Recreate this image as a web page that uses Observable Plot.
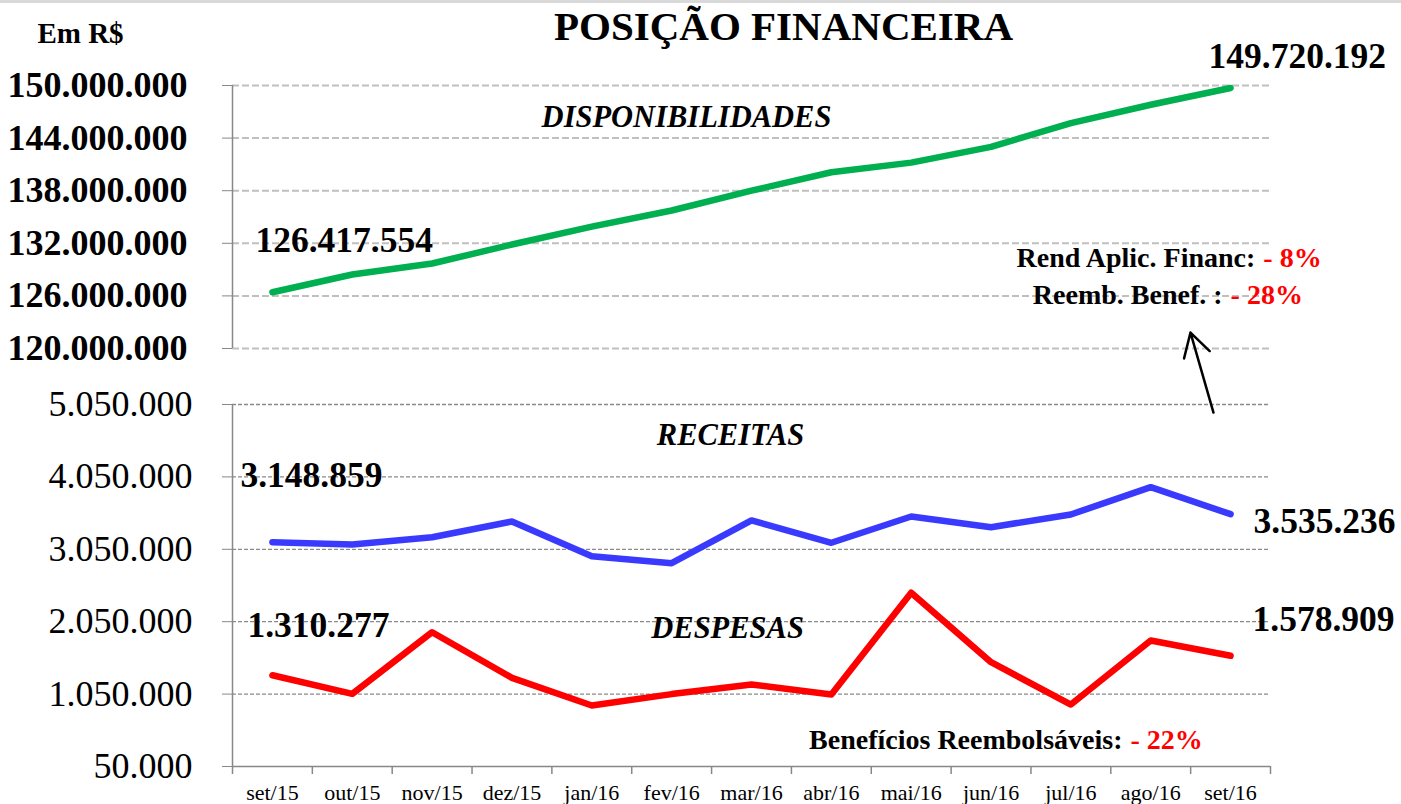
<!DOCTYPE html>
<html>
<head>
<meta charset="utf-8">
<script src="https://cdn.jsdelivr.net/npm/d3@7"></script>
<script src="https://cdn.jsdelivr.net/npm/@observablehq/plot@0.6"></script>
<style>
  html, body { margin: 0; padding: 0; background: #fff; }
  #wrap { position: relative; width: 1401px; height: 804px; overflow: hidden; background: #fff; }
  #wrap svg { position: absolute; left: 0; top: 0; }
  #topline { position: absolute; left: 0; top: 0; width: 1401px; height: 3px; background: #d9d9d9; }
  #wrap svg [aria-label*="axis"] line,
  #wrap svg [aria-label*="axis tick"] path { stroke: #888; }
  #bottomPlot [aria-label^="x-axis"] text { font-size: 22px; }
</style>
</head>
<body>
<div id="wrap"><div id="topline"></div></div>
<script>
// ---- data ----
const months = ["set/15","out/15","nov/15","dez/15","jan/16","fev/16","mar/16","abr/16","mai/16","jun/16","jul/16","ago/16","set/16"];
const disponibilidades = [126417554, 128440000, 129700000, 131860000, 133900000, 135740000, 138000000, 140100000, 141200000, 143000000, 145700000, 147800000, 149720192];
const receitas = [3148859, 3116000, 3217000, 3434000, 2955000, 2858000, 3448000, 3140000, 3503000, 3355000, 3531000, 3908000, 3535236];
const despesas = [1310277, 1054000, 1905000, 1275000, 892000, 1050000, 1183000, 1044000, 2449000, 1490000, 906000, 1790000, 1578909];
const topTicks = [120000000, 126000000, 132000000, 138000000, 144000000, 150000000];
const bottomTicks = [50000, 1050000, 2050000, 3050000, 4050000, 5050000];

// ---- helpers ----
const fmt = d3.formatLocale({decimal: ",", thousands: ".", grouping: [3], currency: ["R$ ", ""]}).format(",d");
const FONT = '"Liberation Serif", "Times New Roman", Times, serif';
const W = 1401, H = 804;
const n = months.length;
const idx = months.map((m, i) => i);
const xDomain = [-0.5, n - 0.5];
const boundaries = months.map((m, i) => i - 0.5).concat([n - 0.5]);
const last = n - 1;

const dispRows = months.map((m, i) => ({i, v: disponibilidades[i]}));
const recRows = months.map((m, i) => ({i, v: receitas[i]}));
const despRows = months.map((m, i) => ({i, v: despesas[i]}));

const GREEN = "#00b050", BLUE = "#3a3aff", RED = "#ff0000";

// ---- top panel: Disponibilidades ----
const topPlot = Plot.plot({
  width: W, height: H,
  marginLeft: 232, marginRight: 131, marginTop: 85, marginBottom: 456,
  style: {fontFamily: FONT, fontSize: "36px", fontWeight: "bold", color: "#000", background: "transparent", overflow: "visible"},
  x: {domain: xDomain, axis: null},
  y: {domain: [120000000, 150000000], ticks: topTicks, tickFormat: fmt, tickSize: 10, tickPadding: 35, label: null},
  marks: [
    Plot.ruleY(topTicks, {stroke: "#c0c0c0", strokeWidth: 2, strokeDasharray: "7,3"}),
    Plot.ruleX([xDomain[0]], {stroke: "#888", strokeWidth: 1.5}),
    Plot.line(dispRows, {x: "i", y: "v", stroke: GREEN, strokeWidth: 6.5, strokeLinejoin: "round", strokeLinecap: "round"}),
    Plot.text([dispRows[0]], {x: "i", y: "v", text: d => fmt(d.v), textAnchor: "start", dx: -17, dy: -40, lineAnchor: "bottom", fontSize: 35.5, fontWeight: "bold", fill: "#000"}),
    Plot.text([dispRows[last]], {x: "i", y: "v", text: d => fmt(d.v), textAnchor: "start", dx: -22, dy: -20, lineAnchor: "bottom", fontSize: 35.5, fontWeight: "bold", fill: "#000"}),
    Plot.text(["DISPONIBILIDADES"], {x: 5.186, y: 145210000, text: d => d, lineAnchor: "bottom", fontSize: 30.5, fontWeight: "bold", fontStyle: "italic", fill: "#000"}),
    Plot.text(["Rend Aplic. Financ:"], {x: 12.36, y: 129240000, text: d => d, textAnchor: "end", dx: -4, lineAnchor: "bottom", fontSize: 28, fontWeight: "bold", fill: "#000"}),
    Plot.text(["- 8%"], {x: 12.36, y: 129240000, text: d => d, textAnchor: "start", dx: 4, lineAnchor: "bottom", fontSize: 28, fontWeight: "bold", fill: RED}),
    Plot.text(["Reemb. Benef. :"], {x: 11.95, y: 125130000, text: d => d, textAnchor: "end", dx: -4, lineAnchor: "bottom", fontSize: 28, fontWeight: "bold", fill: "#000"}),
    Plot.text(["- 28%"], {x: 11.95, y: 125130000, text: d => d, textAnchor: "start", dx: 4, lineAnchor: "bottom", fontSize: 28, fontWeight: "bold", fill: RED}),
    Plot.text(["POSIÇÃO FINANCEIRA"], {frameAnchor: "top", text: d => d, dx: 32, dy: -46, lineAnchor: "bottom", fontSize: 41, fontWeight: "bold", fill: "#000"}),
    Plot.text(["Em R$"], {frameAnchor: "top-left", text: d => d, textAnchor: "middle", dx: -152, dy: -43, lineAnchor: "bottom", fontSize: 29, fontWeight: "bold", fill: "#000"})
  ]
});
topPlot.id = "topPlot";

// ---- bottom panel: Receitas & Despesas ----
const bottomPlot = Plot.plot({
  width: W, height: H,
  marginLeft: 232, marginRight: 131, marginTop: 404, marginBottom: 38,
  style: {fontFamily: FONT, fontSize: "36px", color: "#000", background: "transparent", overflow: "visible"},
  x: {domain: xDomain, ticks: idx, tickFormat: i => months[i], tickSize: 0, tickPadding: 18, label: null},
  y: {domain: [50000, 5050000], ticks: bottomTicks, tickFormat: fmt, tickSize: 10, tickPadding: 30, label: null},
  marks: [
    Plot.ruleY(bottomTicks.slice(1), {stroke: "#8a8a8a", strokeWidth: 1.3, strokeDasharray: "4,2"}),
    Plot.ruleY([bottomTicks[0]], {stroke: "#888", strokeWidth: 1.5}),
    Plot.ruleX([xDomain[0]], {stroke: "#888", strokeWidth: 1.5}),
    Plot.ruleX(boundaries, {y1: bottomTicks[0], y2: bottomTicks[0], insetBottom: -8, stroke: "#888", strokeWidth: 1.5}),
    Plot.line(recRows, {x: "i", y: "v", stroke: BLUE, strokeWidth: 6.5, strokeLinejoin: "round", strokeLinecap: "round"}),
    Plot.line(despRows, {x: "i", y: "v", stroke: RED, strokeWidth: 6.5, strokeLinejoin: "round", strokeLinecap: "round"}),
    Plot.text([recRows[0]], {x: "i", y: "v", text: d => fmt(d.v), textAnchor: "start", dx: -32, dy: -55, lineAnchor: "bottom", fontSize: 35.5, fontWeight: "bold", fill: "#000"}),
    Plot.text([recRows[last]], {x: "i", y: "v", text: d => fmt(d.v), textAnchor: "start", dx: 23, dy: 19, lineAnchor: "bottom", fontSize: 35.5, fontWeight: "bold", fill: "#000"}),
    Plot.text([despRows[0]], {x: "i", y: "v", text: d => fmt(d.v), textAnchor: "start", dx: -25, dy: -38, lineAnchor: "bottom", fontSize: 35.5, fontWeight: "bold", fill: "#000"}),
    Plot.text([despRows[last]], {x: "i", y: "v", text: d => fmt(d.v), textAnchor: "start", dx: 22, dy: -25, lineAnchor: "bottom", fontSize: 35.5, fontWeight: "bold", fill: "#000"}),
    Plot.text(["RECEITAS"], {x: 5.738, y: 4484000, text: d => d, lineAnchor: "bottom", fontSize: 30.5, fontWeight: "bold", fontStyle: "italic", fill: "#000"}),
    Plot.text(["DESPESAS"], {x: 5.70, y: 1818000, text: d => d, lineAnchor: "bottom", fontSize: 30.5, fontWeight: "bold", fontStyle: "italic", fill: "#000"}),
    Plot.text(["Benefícios Reembolsáveis:"], {x: 10.696, y: 298600, text: d => d, textAnchor: "end", dx: -4, lineAnchor: "bottom", fontSize: 28, fontWeight: "bold", fill: "#000"}),
    Plot.text(["- 22%"], {x: 10.696, y: 298600, text: d => d, textAnchor: "start", dx: 4, lineAnchor: "bottom", fontSize: 28, fontWeight: "bold", fill: RED}),
    Plot.arrow([{x1: 11.786, y1: 4939000, x2: 11.498, y2: 6044000}], {x1: "x1", y1: "y1", x2: "x2", y2: "y2", bend: 0, headLength: 16, headAngle: 60, stroke: "#000", strokeWidth: 2.5})
  ]
});
bottomPlot.id = "bottomPlot";

const wrap = document.getElementById("wrap");
wrap.appendChild(topPlot);
wrap.appendChild(bottomPlot);
</script>
</body>
</html>
